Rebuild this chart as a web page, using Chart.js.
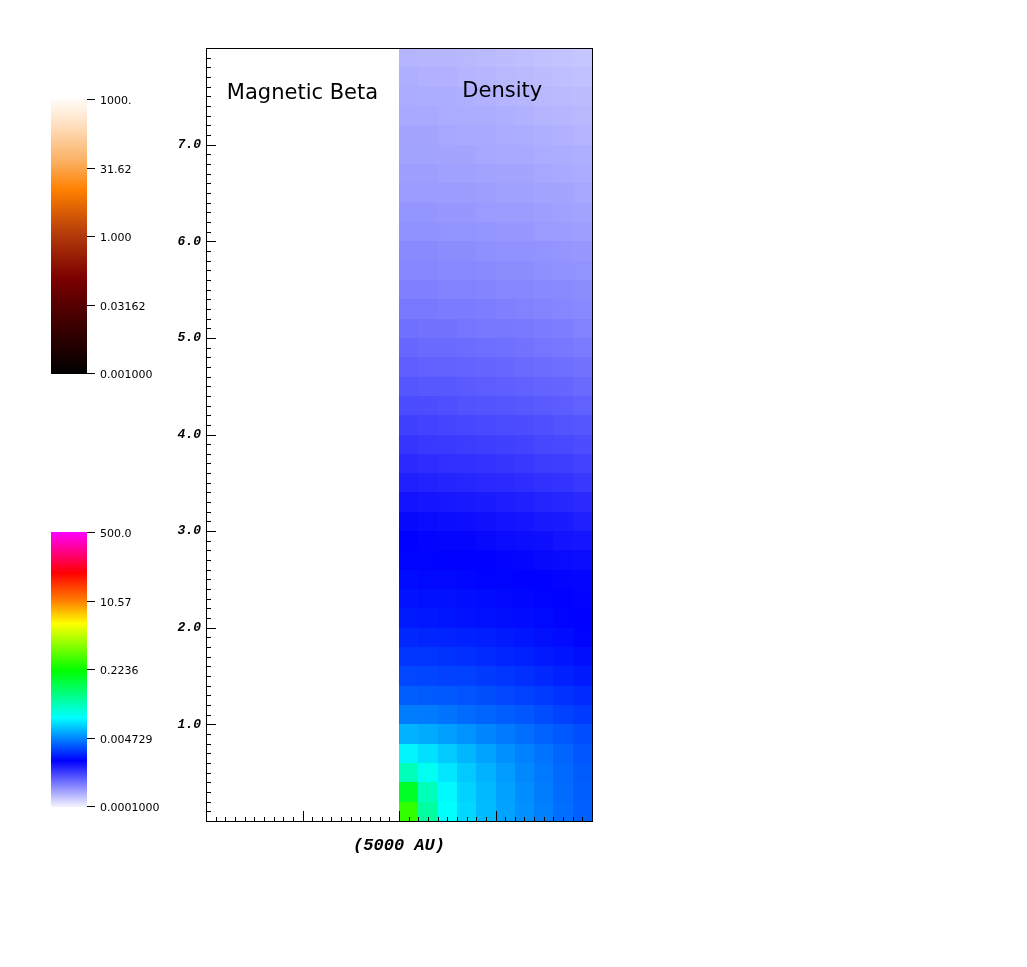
<!DOCTYPE html>
<html>
<head>
<meta charset="utf-8">
<title>Magnetic Beta / Density</title>
<script src="https://cdn.jsdelivr.net/npm/chart.js@4.4.1/dist/chart.umd.min.js"></script>
<style>
  html, body { margin: 0; padding: 0; background: #fff; overflow: hidden; }
  #wrap { position: relative; width: 1027px; height: 967px; }
  #plot { position: absolute; left: 0; top: 0; }
  .cbar { position: absolute; left: 51px; width: 36px; height: 275px; }
  .cbtick { position: absolute; left: 87px; width: 8px; height: 1px; background: #000; }
  .cblabel { position: absolute; left: 100px; font: 11px "DejaVu Sans", sans-serif; color: #000;
             line-height: 13px; transform: translateY(-50%); white-space: nowrap; }
</style>
</head>
<body>
<div id="wrap">
  <canvas id="plot" width="1027" height="967"></canvas>
  <div class="cbar" id="cb-beta" style="top:99px"></div>
  <div class="cbar" id="cb-density" style="top:532px"></div>
</div>
<script>
// --- DATA ---
// density panel bins, in units of 5000 AU
const xEdges = [0, 0.2, 0.4, 0.6, 0.8, 1.0, 1.2, 1.4, 1.6, 1.8, 2.0];
const yEdges = [0, 0.2, 0.4, 0.6, 0.8, 1.0, 1.2, 1.4, 1.6, 1.8, 2.0,
                2.2, 2.4, 2.6, 2.8, 3.0, 3.2, 3.4, 3.6, 3.8, 4.0,
                4.2, 4.4, 4.6, 4.8, 5.0, 5.2, 5.4, 5.6, 5.8, 6.0,
                6.2, 6.4, 6.6, 6.8, 7.0, 7.2, 7.4, 7.6, 7.8, 8.0];

// log10(density), one row per y bin, bottom row first
const densityLog10 = [
  [-0.45, -1.40, -1.82, -1.98, -2.10, -2.20, -2.28, -2.35, -2.42, -2.48],
  [-0.85, -1.50, -1.84, -2.00, -2.11, -2.21, -2.29, -2.36, -2.43, -2.49],
  [-1.50, -1.76, -1.92, -2.04, -2.14, -2.23, -2.31, -2.38, -2.44, -2.50],
  [-1.86, -1.95, -2.04, -2.12, -2.20, -2.28, -2.34, -2.40, -2.46, -2.52],
  [-2.14, -2.17, -2.22, -2.27, -2.32, -2.37, -2.42, -2.47, -2.51, -2.56],
  [-2.36, -2.37, -2.40, -2.43, -2.46, -2.49, -2.52, -2.56, -2.60, -2.64],
  [-2.49, -2.50, -2.51, -2.53, -2.55, -2.58, -2.61, -2.64, -2.67, -2.70],
  [-2.58, -2.59, -2.60, -2.61, -2.63, -2.65, -2.68, -2.71, -2.74, -2.77],
  [-2.65, -2.66, -2.67, -2.68, -2.70, -2.72, -2.74, -2.77, -2.79, -2.82],
  [-2.71, -2.72, -2.73, -2.74, -2.75, -2.77, -2.79, -2.81, -2.83, -2.86],
  [-2.77, -2.78, -2.79, -2.80, -2.81, -2.82, -2.83, -2.84, -2.86, -2.88],
  [-2.80, -2.81, -2.81, -2.82, -2.83, -2.84, -2.85, -2.86, -2.87, -2.89],
  [-2.83, -2.84, -2.84, -2.85, -2.86, -2.86, -2.87, -2.88, -2.89, -2.90],
  [-2.86, -2.86, -2.87, -2.88, -2.88, -2.89, -2.90, -2.91, -2.92, -2.93],
  [-2.88, -2.89, -2.90, -2.90, -2.91, -2.92, -2.93, -2.94, -2.96, -2.97],
  [-2.91, -2.92, -2.93, -2.94, -2.95, -2.96, -2.97, -2.99, -3.00, -3.02],
  [-2.96, -2.97, -2.98, -2.99, -3.00, -3.01, -3.02, -3.04, -3.05, -3.07],
  [-3.02, -3.03, -3.04, -3.05, -3.06, -3.07, -3.08, -3.10, -3.11, -3.13],
  [-3.07, -3.08, -3.09, -3.10, -3.11, -3.12, -3.13, -3.15, -3.16, -3.18],
  [-3.12, -3.13, -3.14, -3.15, -3.16, -3.17, -3.18, -3.20, -3.21, -3.23],
  [-3.17, -3.18, -3.19, -3.20, -3.21, -3.22, -3.23, -3.24, -3.26, -3.27],
  [-3.22, -3.23, -3.24, -3.25, -3.26, -3.27, -3.28, -3.29, -3.30, -3.32],
  [-3.27, -3.28, -3.28, -3.29, -3.30, -3.31, -3.32, -3.33, -3.34, -3.36],
  [-3.31, -3.32, -3.32, -3.33, -3.34, -3.35, -3.36, -3.37, -3.38, -3.40],
  [-3.35, -3.36, -3.36, -3.37, -3.38, -3.39, -3.40, -3.41, -3.42, -3.44],
  [-3.39, -3.40, -3.40, -3.41, -3.42, -3.42, -3.43, -3.44, -3.45, -3.47],
  [-3.43, -3.43, -3.44, -3.44, -3.45, -3.46, -3.47, -3.48, -3.49, -3.50],
  [-3.46, -3.46, -3.47, -3.47, -3.48, -3.49, -3.49, -3.50, -3.51, -3.52],
  [-3.49, -3.49, -3.50, -3.50, -3.51, -3.52, -3.52, -3.53, -3.54, -3.55],
  [-3.51, -3.51, -3.52, -3.52, -3.53, -3.54, -3.54, -3.55, -3.56, -3.57],
  [-3.54, -3.54, -3.55, -3.55, -3.56, -3.57, -3.57, -3.58, -3.59, -3.60],
  [-3.56, -3.56, -3.57, -3.57, -3.58, -3.59, -3.59, -3.60, -3.61, -3.62],
  [-3.58, -3.58, -3.59, -3.59, -3.60, -3.61, -3.61, -3.62, -3.63, -3.64],
  [-3.60, -3.60, -3.61, -3.61, -3.62, -3.63, -3.63, -3.64, -3.65, -3.66],
  [-3.62, -3.62, -3.63, -3.63, -3.64, -3.65, -3.65, -3.66, -3.67, -3.68],
  [-3.63, -3.63, -3.64, -3.65, -3.65, -3.66, -3.67, -3.68, -3.69, -3.70],
  [-3.65, -3.65, -3.66, -3.67, -3.67, -3.68, -3.69, -3.70, -3.71, -3.72],
  [-3.66, -3.67, -3.67, -3.68, -3.69, -3.70, -3.71, -3.72, -3.73, -3.74],
  [-3.68, -3.69, -3.69, -3.70, -3.71, -3.72, -3.73, -3.74, -3.75, -3.76],
  [-3.70, -3.71, -3.71, -3.72, -3.73, -3.74, -3.75, -3.76, -3.77, -3.78]
];

const yTickLabels = ['1.0', '2.0', '3.0', '4.0', '5.0', '6.0', '7.0'];
const xAxisTitle = '(5000 AU)';
const panelTitles = ['Magnetic Beta', 'Density'];

// colour bar tick labels, top to bottom
const betaTicks = ['1000.', '31.62', '1.000', '0.03162', '0.001000'];
const densityTicks = ['500.0', '10.57', '0.2236', '0.004729', '0.0001000'];
const densityMin = -4;              // log10(0.0001)
const densityMax = Math.log10(500);

// --- colour maps ---
const densityStops = [
  [-4.0, [245, 245, 255]],
  [-2.875, [0, 0, 255]],
  [-1.82, [0, 255, 255]],
  [-0.675, [0, 255, 0]],
  [0.47, [255, 255, 0]],
  [1.02, [255, 128, 0]],
  [1.70, [255, 0, 0]],
  [2.699, [255, 0, 255]]
];

// top -> bottom, percent of bar height
const betaStops = [
  [0, [255, 252, 248]],
  [9, [255, 225, 195]],
  [23, [250, 175, 95]],
  [33, [255, 128, 0]],
  [49, [180, 60, 10]],
  [65, [125, 0, 0]],
  [78, [75, 0, 0]],
  [100, [0, 0, 0]]
];

function densityColor(v) {
  if (v <= densityStops[0][0]) return `rgb(${densityStops[0][1].join(',')})`;
  for (let i = 1; i < densityStops.length; i++) {
    const [v1, c1] = densityStops[i];
    const [v0, c0] = densityStops[i - 1];
    if (v <= v1) {
      const f = (v - v0) / (v1 - v0);
      const c = c0.map((a, k) => Math.round(a + (c1[k] - a) * f));
      return `rgb(${c.join(',')})`;
    }
  }
  return `rgb(${densityStops[densityStops.length - 1][1].join(',')})`;
}

// --- colour bars (plain HTML) ---
function buildColorBar(id, gradientStops, labels) {
  const bar = document.getElementById(id);
  const parts = gradientStops.map(([p, c]) => `rgb(${c.join(',')}) ${p.toFixed(1)}%`);
  bar.style.background = `linear-gradient(to bottom, ${parts.join(', ')})`;

  const top = parseFloat(bar.style.top);
  const h = 274;
  const wrap = document.getElementById('wrap');
  labels.forEach((txt, i) => {
    const y = Math.round(top + i * h / (labels.length - 1));
    const tick = document.createElement('div');
    tick.className = 'cbtick';
    tick.style.top = y + 'px';
    wrap.appendChild(tick);

    const lab = document.createElement('div');
    lab.className = 'cblabel';
    lab.style.top = (y + 0.5) + 'px';
    lab.textContent = txt;
    wrap.appendChild(lab);
  });
}

buildColorBar('cb-beta', betaStops, betaTicks);
buildColorBar('cb-density',
  densityStops.slice().reverse().map(([v, c]) => [100 * (densityMax - v) / (densityMax - densityMin), c]),
  densityTicks);

// --- cells for the chart ---
const cells = [];
densityLog10.forEach((row, j) => {
  row.forEach((v, i) => {
    cells.push({
      x: (xEdges[i] + xEdges[i + 1]) / 2,
      y: (yEdges[j] + yEdges[j + 1]) / 2,
      x0: xEdges[i], x1: xEdges[i + 1],
      y0: yEdges[j], y1: yEdges[j + 1],
      v: v
    });
  });
});

const isMajor = v => Math.abs(v - Math.round(v)) < 1e-6;

const panelPlugin = {
  id: 'panels',
  beforeDatasetsDraw(chart) {
    const { ctx, scales: { x, y } } = chart;
    ctx.save();
    chart.data.datasets[0].data.forEach(c => {
      const px0 = Math.round(x.getPixelForValue(c.x0));
      const px1 = Math.round(x.getPixelForValue(c.x1));
      const py0 = Math.round(y.getPixelForValue(c.y0));
      const py1 = Math.round(y.getPixelForValue(c.y1));
      ctx.fillStyle = densityColor(c.v);
      ctx.fillRect(px0, py1, px1 - px0, py0 - py1);
    });
    ctx.restore();
  },
  afterDraw(chart) {
    const { ctx, chartArea: a, scales: { x, y } } = chart;
    ctx.save();
    ctx.strokeStyle = '#000';
    ctx.lineWidth = 1;

    // inward tick marks
    y.ticks.forEach(t => {
      const p = Math.round(y.getPixelForValue(t.value)) + 0.5;
      const len = isMajor(t.value) ? 10 : 5;
      ctx.beginPath();
      ctx.moveTo(a.left, p);
      ctx.lineTo(a.left + len, p);
      ctx.stroke();
    });
    x.ticks.forEach(t => {
      const p = Math.round(x.getPixelForValue(t.value)) + 0.5;
      const len = isMajor(t.value) ? 10 : 4;
      ctx.beginPath();
      ctx.moveTo(p, a.bottom);
      ctx.lineTo(p, a.bottom - len);
      ctx.stroke();
    });

    // frame
    ctx.strokeRect(a.left + 0.5, a.top + 0.5, a.right - a.left, a.bottom - a.top);

    // panel titles
    ctx.fillStyle = '#000';
    ctx.font = '21px "DejaVu Sans", sans-serif';
    ctx.textAlign = 'center';
    ctx.textBaseline = 'middle';
    ctx.fillText(panelTitles[0], x.getPixelForValue(-1), y.getPixelForValue(7.53));
    ctx.fillText(panelTitles[1], x.getPixelForValue(1.07), y.getPixelForValue(7.55));
    ctx.restore();
  }
};

const config = {
  type: 'scatter',
  data: {
    datasets: [{
      label: 'Density',
      data: cells,
      pointRadius: 0,
      pointHoverRadius: 0
    }]
  },
  options: {
    responsive: false,
    animation: false,
    devicePixelRatio: 1,
    layout: { padding: { left: 166, top: 48, right: 435, bottom: 106 } },
    plugins: { legend: { display: false }, tooltip: { enabled: false } },
    scales: {
      x: {
        type: 'linear',
        min: -2,
        max: 2,
        grid: { display: false, drawTicks: false },
        border: { display: false },
        ticks: { stepSize: 0.1, maxTicksLimit: 100, autoSkip: false, display: false },
        title: {
          display: true,
          text: xAxisTitle,
          color: '#000',
          font: { family: '"Liberation Mono", "Courier New", monospace', size: 17, style: 'italic', weight: 'bold' },
          padding: { top: 0, bottom: 5 }
        },
        afterFit: s => { s.height = 40; }
      },
      y: {
        type: 'linear',
        min: 0,
        max: 8,
        grid: { display: false, drawTicks: false },
        border: { display: false },
        ticks: {
          stepSize: 0.1,
          maxTicksLimit: 100,
          autoSkip: false,
          padding: 5,
          color: '#000',
          font: { family: '"Liberation Mono", "Courier New", monospace', size: 13, style: 'italic', weight: 'bold' },
          callback: function(value) {
            const s = Number(value).toFixed(1);
            return isMajor(value) && yTickLabels.includes(s) ? s : '';
          }
        },
        afterFit: s => { s.width = 40; }
      }
    }
  },
  plugins: [panelPlugin]
};

new Chart(document.getElementById('plot'), config);
</script>
</body>
</html>
